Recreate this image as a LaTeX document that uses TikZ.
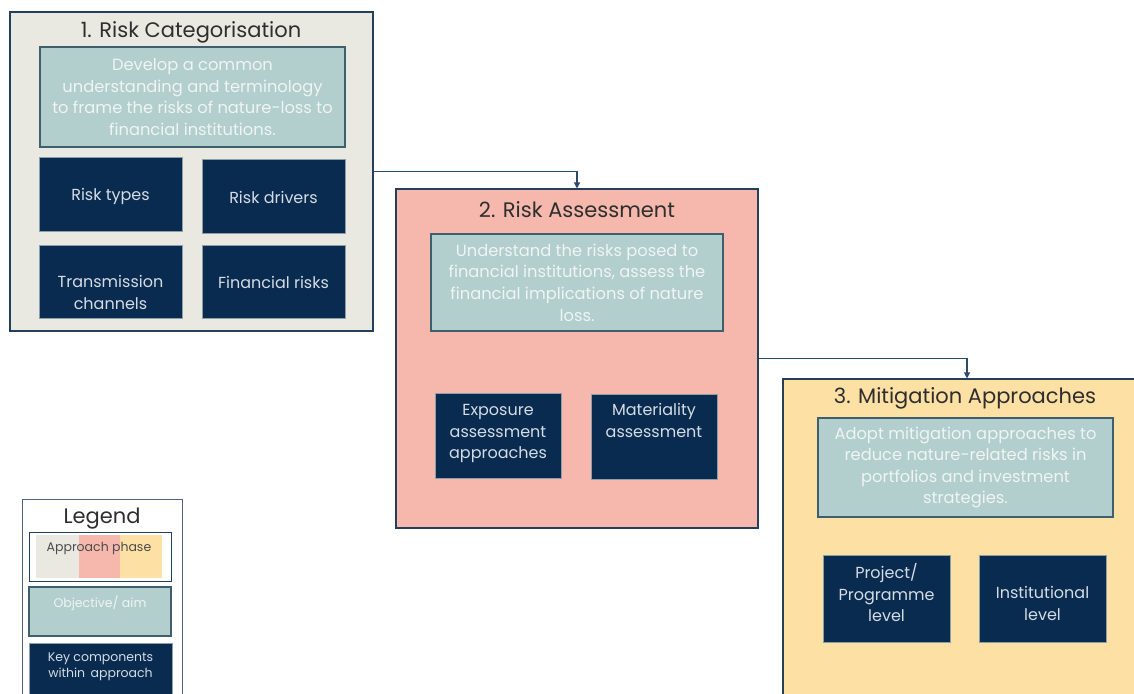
\documentclass[tikz,border=0pt]{standalone}
\usepackage{fontspec}
\setmainfont{Poppins}
\usetikzlibrary{arrows.meta}

\definecolor{navy}{HTML}{0A2B50}
\definecolor{edge}{HTML}{243F5C}
\definecolor{slate}{HTML}{3F5E6E}
\definecolor{catfill}{HTML}{EAE9E1}
\definecolor{asmfill}{HTML}{F6B8AC}
\definecolor{mitfill}{HTML}{FDE0A4}
\definecolor{aimfill}{HTML}{B3CFCD}
\definecolor{aimtext}{HTML}{EFF4F4}
\definecolor{keytext}{HTML}{D4DCE4}
\definecolor{titletext}{HTML}{2E2E2E}
\definecolor{linkcol}{HTML}{2C4B6B}

\tikzset{
  x=1pt, y=-1pt,
  phase/.style={draw=edge, line width=1.1pt, inner sep=0pt},
  title/.style={text=titletext, font=\fontsize{21}{25}\selectfont, inner sep=0pt},
  aim/.style={draw=slate, line width=1.1pt, fill=aimfill, text=aimtext, align=center,
    font=\fontsize{16.3}{21.6}\selectfont, inner sep=0pt},
  key/.style={draw=slate!60, line width=0.6pt, fill=navy, text=keytext, align=center,
    font=\fontsize{16}{21.5}\selectfont, inner sep=0pt},
  keylabel/.style={text=keytext, align=center, font=\fontsize{16}{21.5}\selectfont, inner sep=0pt},
  link/.style={draw=linkcol, line width=1.2pt, -{Triangle[length=6pt,width=6pt]}},
}

\begin{document}
\begin{tikzpicture}
\useasboundingbox[fill=white] (0,0) rectangle (1134,693);

% Phase 1: risk categorisation
\node[phase, fill=catfill, minimum width=363pt, minimum height=319pt] (cat) at (191.5,171.5) {};
\node[title] (cattitle) at (191,32) {1. Risk Categorisation};
\node[aim, minimum width=305pt, minimum height=100pt] (cataim) at (192.5,97)
  {Develop a common\\understanding and terminology\\to frame the risks of nature-loss to\\financial institutions.};
\node[key, minimum width=143pt, minimum height=74pt] (types) at (110.5,194) {};
\node[keylabel] (typestext) at ([yshift=-2.5pt]types.center) {Risk types};
\node[key, minimum width=143pt, minimum height=74pt] (drivers) at (273.5,196) {};
\node[keylabel] (driverstext) at ([yshift=-1.5pt]drivers.center) {Risk drivers};
\node[key, minimum width=143pt, minimum height=73pt] (channels) at (110.5,281.5) {};
\node[keylabel] (channelstext) at ([yshift=-11pt]channels.center) {Transmission\\channels};
\node[key, minimum width=143pt, minimum height=73pt] (finrisks) at (273.5,281.5) {};
\node[keylabel] (finriskstext) at ([yshift=-1pt]finrisks.center) {Financial risks};

% Phase 2: risk assessment
\node[phase, fill=asmfill, minimum width=362pt, minimum height=339pt] (asm) at (577,358.5) {};
\node[title] (asmtitle) at (577,209.5) {2. Risk Assessment};
\node[aim, minimum width=292pt, minimum height=97pt] (asmaim) at (577,282.5)
  {Understand the risks posed to\\financial institutions, assess the\\financial implications of nature\\loss.};
\node[key, minimum width=126pt, minimum height=85pt] (exposure) at (498,435.5) {};
\node[keylabel] (exposuretext) at ([yshift=2pt]exposure.center) {Exposure\\assessment\\approaches};
\node[key, minimum width=126pt, minimum height=85pt] (material) at (654,437) {};
\node[keylabel, anchor=north] (materialtext) at ([yshift=-9pt]material.north) {Materiality\\assessment};

% Phase 3: mitigation approaches
\node[phase, fill=mitfill, minimum width=368pt, minimum height=340pt] (mit) at (967,549) {};
\node[title] (mittitle) at (965,398.5) {3. Mitigation Approaches};
\node[aim, minimum width=295pt, minimum height=99pt] (mitaim) at (965.5,467.5)
  {Adopt mitigation approaches to\\reduce nature-related risks in\\portfolios and investment\\strategies.};
\node[key, minimum width=127pt, minimum height=87pt] (project) at (886.5,599) {};
\node[keylabel] (projecttext) at ([yshift=6pt]project.center) {Project/\\Programme\\level};
\node[key, minimum width=127pt, minimum height=87pt] (institution) at (1042.5,599) {};
\node[keylabel] (institutiontext) at ([yshift=-4.5pt]institution.center) {Institutional\\level};

% Flow between phases
\draw[link] (cat.east) -| (asm.north);
\draw[link] (asm.east) -| (mit.north);

% Legend
\node[draw=edge!80, line width=1pt, fill=white, minimum width=160pt, minimum height=220pt, inner sep=0pt] (legend) at (102,609) {};
\node[title] (legtitle) at (102,519) {Legend};
\node[draw=edge, line width=1pt, fill=white, minimum width=142pt, minimum height=49pt, inner sep=0pt] (legphase) at (100,556.5) {};
\fill[catfill] (36,535) rectangle (79,578);
\fill[asmfill] (79,535) rectangle (120,578);
\fill[mitfill] (120,535) rectangle (162,578);
\node[text=black!70, font=\fontsize{12.5}{15}\selectfont, inner sep=0pt] (legphasetext) at (99,548) {Approach phase};
\node[aim, minimum width=142pt, minimum height=49pt] (legaim) at (100,611.5) {};
\node[text=aimtext, font=\fontsize{12.5}{15}\selectfont, inner sep=0pt] (legaimtext) at (100,603) {Objective/ aim};
\node[key, minimum width=143pt, minimum height=52pt] (legkey) at (100.5,669) {};
\node[keylabel, font=\fontsize{12.5}{16}\selectfont, anchor=north] (legkeytext) at ([yshift=-10pt]legkey.north)
  {Key components\\within\, approach};
\end{tikzpicture}
\end{document}
